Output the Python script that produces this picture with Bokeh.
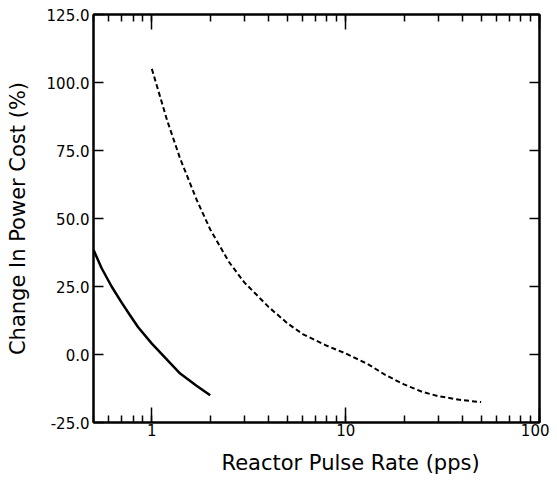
from bokeh.plotting import figure
from bokeh.models import (Range1d, LogAxis, LinearAxis, LogTicker, FixedTicker,
                          PrintfTickFormatter, Title)
from bokeh.embed import file_html
from bokeh.resources import INLINE

# Data
solid_x = [0.5, 0.55, 0.62, 0.7, 0.77, 0.85, 1.0, 1.2, 1.4, 1.7, 2.0]
solid_y = [38.5, 31.8, 25.0, 19.0, 14.5, 10.0, 4.0, -2.0, -7.0, -11.5, -15.0]

dashed_x = [1.0, 1.2, 1.4, 1.7, 2.0, 2.5, 3.0, 4.0, 5.0, 6.0, 8.0, 10.0, 13.0, 16.0, 20.0, 25.0, 30.0, 40.0, 50.0]
dashed_y = [105.0, 86.0, 72.0, 57.0, 46.0, 34.0, 26.5, 17.5, 11.5, 7.5, 3.2, 0.4, -3.5, -7.5, -11.0, -13.8, -15.3, -16.8, -17.5]

y_ticks = [-25, 0, 25, 50, 75, 100, 125]
x_labels = {1: "1", 10: "10", 100: "100"}

FONT = "DejaVu Sans"

p = figure(width=549, height=485, x_axis_type="log",
           x_range=Range1d(0.5, 100), y_range=Range1d(-25, 125),
           output_backend="svg", toolbar_location=None,
           min_border_left=93, min_border_right=10, min_border_top=14,
           min_border_bottom=62,
           y_axis_label="Change In Power Cost (%)")

p.grid.visible = False
p.outline_line_color = "black"
p.outline_line_width = 2
p.background_fill_color = "white"
p.border_fill_color = "white"

# bottom x axis
xa = p.xaxis[0]
xa.ticker = LogTicker(num_minor_ticks=10)
xa.major_label_overrides = x_labels
xa.major_tick_in = 15
xa.major_tick_out = 0
xa.minor_tick_in = 7
xa.minor_tick_out = 0
xa.axis_line_width = 2
xa.major_tick_line_width = 1.5
xa.minor_tick_line_width = 1.5
xa.major_label_text_font = FONT
xa.major_label_text_font_size = "15px"
xa.major_label_text_color = "black"
xa.major_label_standoff = 1

# left y axis
ya = p.yaxis[0]
ya.ticker = FixedTicker(ticks=y_ticks)
ya.formatter = PrintfTickFormatter(format="%.1f")
ya.major_tick_in = 10
ya.major_tick_out = 0
ya.minor_tick_in = 0
ya.minor_tick_out = 0
ya.axis_line_width = 2
ya.major_tick_line_width = 1.5
ya.major_label_text_font = FONT
ya.major_label_text_font_size = "15px"
ya.major_label_text_color = "black"
ya.major_label_standoff = 4
ya.axis_label_text_font = FONT
ya.axis_label_text_font_size = "21px"
ya.axis_label_text_font_style = "normal"
ya.axis_label_text_color = "black"
ya.axis_label_standoff = 14

# top axis (ticks only)
ta = LogAxis(ticker=LogTicker(num_minor_ticks=10))
ta.major_label_text_font_size = "1px"
ta.major_label_text_alpha = 0
ta.major_label_standoff = 0
ta.major_tick_in = 15
ta.major_tick_out = 0
ta.minor_tick_in = 7
ta.minor_tick_out = 0
ta.axis_line_width = 2
ta.major_tick_line_width = 1.5
ta.minor_tick_line_width = 1.5
p.add_layout(ta, "above")

# right axis (ticks only)
ra = LinearAxis(ticker=FixedTicker(ticks=y_ticks))
ra.major_label_text_font_size = "1px"
ra.major_label_text_alpha = 0
ra.major_label_standoff = 0
ra.major_tick_in = 10
ra.major_tick_out = 0
ra.minor_tick_in = 0
ra.minor_tick_out = 0
ra.axis_line_width = 2
ra.major_tick_line_width = 1.5
p.add_layout(ra, "right")

# x axis label as an offset title below
xt = Title(text="Reactor Pulse Rate (pps)", align="left", offset=128,
           text_font=FONT, text_font_size="21px", text_font_style="normal",
           text_color="black", standoff=21)
p.add_layout(xt, "below")

p.line(solid_x, solid_y, line_color="black", line_width=2.5)
p.line(dashed_x, dashed_y, line_color="black", line_width=2, line_dash="5 3")

open("out.html", "w").write(file_html(p, INLINE))
